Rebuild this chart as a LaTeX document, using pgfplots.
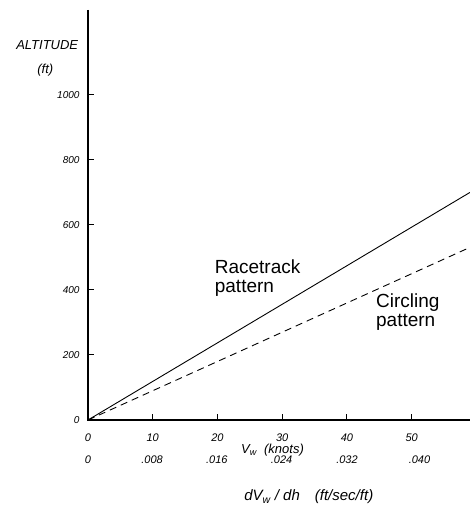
\documentclass[border=0pt]{standalone}
\usepackage{fontspec}
\newfontfamily\helv{Liberation Sans}
\usepackage{pgfplots}
\pgfplotsset{compat=1.18}
\tikzset{sec/.style={font=\helv\itshape\fontsize{11}{13}\selectfont, yshift=-40pt}}
\begin{document}
\begin{tikzpicture}
\begin{axis}[
  at={(0,0)}, anchor=south west,
  scale only axis, width=382pt, height=410pt,
  xmin=0, xmax=59, ymin=0, ymax=1261,
  clip=false,
  axis line style={draw=none},
  xtick={0,10,20,30,40,50},
  xticklabels={0,10,20,30,40,50},
  ytick={0,200,400,600,800,1000},
  yticklabels={0,200,400,600,800,1000},
  xtick pos=left, ytick pos=left,
  tick align=inside,
  major tick length=6pt,
  every major tick/.style={draw=black, line width=1pt},
  xticklabel style={font=\helv\itshape\fontsize{11}{13}\selectfont, yshift=-10pt},
  yticklabel style={font=\helv\itshape\fontsize{10}{12}\selectfont, xshift=-5pt},
]
\draw[line width=1.3pt, black] (rel axis cs:0,1) -- (rel axis cs:0,0) -- (rel axis cs:1,0);
\addplot[black, line width=0.9pt] coordinates {(0,0) (59,700)};
\addplot[black, line width=0.9pt, dash pattern=on 7pt off 5pt] coordinates {(0,0) (59,531)};
\node[font=\helv\fontsize{19}{19}\selectfont, align=left] at (axis cs:26.2,437) {Racetrack\\pattern};
\node[font=\helv\fontsize{19}{19}\selectfont, align=left] at (axis cs:49.4,332) {Circling\\pattern};
\node[font=\helv\itshape\fontsize{13}{15}\selectfont] at (axis cs:-6.3,1154) {ALTITUDE};
\node[font=\helv\itshape\fontsize{13}{15}\selectfont] at (axis cs:-6.6,1077) {(ft)};
\node[font=\helv\itshape\fontsize{13}{15}\selectfont] at (axis cs:28.5,0) [yshift=-30pt] {V\textsubscript{w}\ \ (knots)};
\node[sec] at (axis cs:0,0) {0};
\node[sec] at (axis cs:9.9,0) {.008};
\node[sec] at (axis cs:19.9,0) {.016};
\node[sec] at (axis cs:29.9,0) {.024};
\node[sec] at (axis cs:40,0) {.032};
\node[sec] at (axis cs:51.2,0) {.040};
\node[font=\helv\itshape\fontsize{15}{17}\selectfont] at (axis cs:34.1,0) [yshift=-77pt] {dV\textsubscript{w} / dh\quad(ft/sec/ft)};
\end{axis}
\pgfresetboundingbox
\path (-88pt,-87pt) rectangle (382pt,420pt);
\end{tikzpicture}
\end{document}
